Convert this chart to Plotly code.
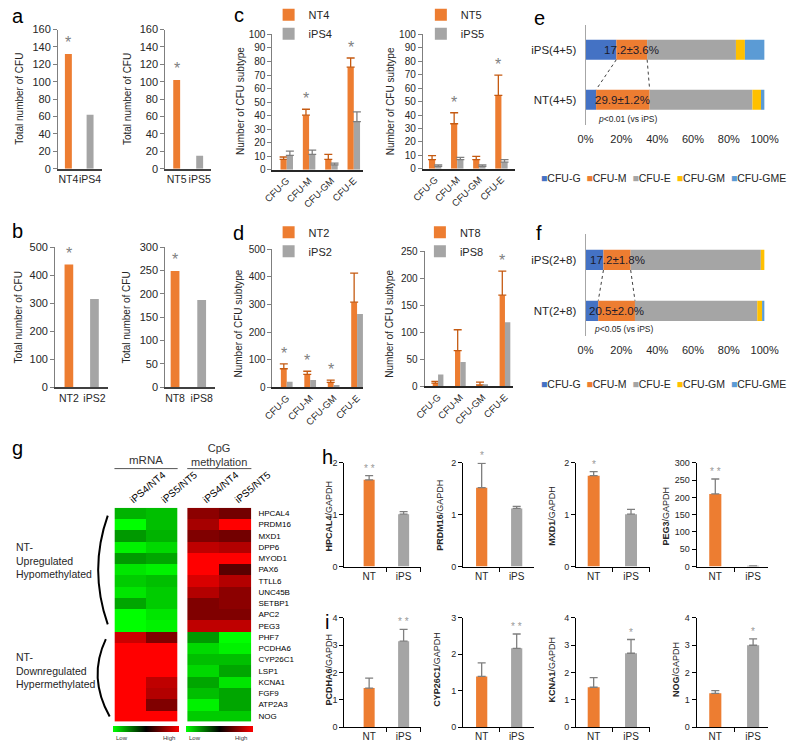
import plotly.graph_objects as go

W, H = 800, 749
def fx(p): return p / W
def fy(p): return 1 - p / H

ORANGE = '#ED7D31'
GRAY = '#A5A5A5'
TXT = '#262626'
FONT = 'Liberation Sans, Arial, sans-serif'

# ---------------- data ----------------
# panel a / b : total CFU
a1_cats = ['NT4', 'iPS4']; a1_vals = [132, 62]
a2_cats = ['NT5', 'iPS5']; a2_vals = [102, 15]
b1_cats = ['NT2', 'iPS2']; b1_vals = [438, 315]
b2_cats = ['NT8', 'iPS8']; b2_vals = [249, 187]

# panel c / d : CFU subtypes
cfu = ['CFU-G', 'CFU-M', 'CFU-GM', 'CFU-E']
nt4 = [7.7, 40.3, 7.7, 75.8];   nt4_err = [1.7, 4.4, 3.7, 6.8]
ips4 = [10.6, 11.4, 3.6, 35.5]; ips4_err = [3.2, 3.1, 1.2, 7.3]
nt5 = [6.8, 33.5, 6.8, 54.6];   nt5_err = [2.9, 8.2, 2.4, 15.1]
ips5 = [1.7, 6.8, 1.7, 4.9];    ips5_err = [1.2, 1.7, 1.2, 1.9]
nt2 = [67, 47, 18, 308];        nt2_err = [18, 11, 8, 105]
ips2 = [20, 26, 8, 265]
nt8 = [6, 66, 2.4, 168.5];      nt8_err = [3, 38.5, 5.4, 44.5]
ips8 = [21.7, 44.7, 3.6, 118.4]
c1_sig = [False, True, False, True]
c2_sig = [False, True, False, True]
d1_sig = [True, True, True, False]
d2_sig = [False, False, False, True]

# panel e / f : subtype composition (%)
subtypes = ['CFU-G', 'CFU-M', 'CFU-E', 'CFU-GM', 'CFU-GME']
sub_colors = ['#4472C4', '#ED7D31', '#A5A5A5', '#FFC000', '#5B9BD5']
pct_ticks = [0, 20, 40, 60, 80, 100]
e_groups = ['NT(4+5)', 'iPS(4+5)']
e_nt = [5.9, 29.9, 57.4, 4.8, 2.0]
e_ips = [17.2, 17.2, 49.6, 5.0, 11.0]
e_mlabels = ['29.9±1.2%', '17.2±3.6%']
e_p = '<i>p</i>&lt;0.01 (vs iPS)'
f_groups = ['NT(2+8)', 'iPS(2+8)']
f_nt = [7.1, 20.5, 68.3, 2.7, 1.4]
f_ips = [10.0, 15.2, 72.7, 2.1, 0.0]
f_mlabels = ['20.5±2.0%', '17.2±1.8%']
f_p = '<i>p</i>&lt;0.05 (vs iPS)'

# panel g : heatmap
genes = ['HPCAL4', 'PRDM16', 'MXD1', 'DPP6', 'MYOD1', 'PAX6', 'TTLL6', 'UNC45B',
         'SETBP1', 'APC2', 'PEG3', 'PHF7', 'PCDHA6', 'CYP26C1', 'LSP1', 'KCNA1',
         'FGF9', 'ATP2A3', 'NOG']
ratio_cols = ['iPS4/NT4', 'iPS5/NT5']
mrna_4 = [-0.7, -1.0, -0.6, -0.95, -0.6, -0.9, -0.8, -0.9, -0.65, -1.0, -1.0,
          0.8, 1.0, 1.0, 1.0, 1.0, 1.0, 1.0, 1.0]
mrna_5 = [-0.75, -0.75, -0.7, -0.85, -0.65, -0.95, -0.75, -0.8, -0.8, -0.9, -0.95,
          0.5, 1.0, 1.0, 1.0, 0.75, 0.7, 0.5, 1.0]
cpg_4 = [0.55, 0.65, 0.5, 0.75, 1.0, 1.0, 0.85, 0.7, 0.5, 0.5, 0.75,
         -0.6, -0.85, -0.75, -0.85, -0.65, -0.75, -0.95, -0.8]
cpg_5 = [0.45, 1.0, 0.45, 0.7, 1.0, 0.35, 0.7, 0.55, 0.55, 0.5, 0.75,
         -1.0, -0.95, -0.75, -0.65, -0.9, -0.65, -0.65, -0.8]

# panel h / i : qPCR
grp = ['NT', 'iPS']
h_genes = ['HPCAL4', 'PRDM16', 'MXD1', 'PEG3']
h_nt = [1.67, 1.52, 1.75, 210];  h_nt_err = [0.08, 0.47, 0.08, 43]
h_ips = [1.01, 1.12, 1.01, 2];   h_ips_err = [0.05, 0.04, 0.09, 0]
h_stars = ['* *', '*', '*', '* *']
h_ymax = [2, 2, 2, 300]; h_dtick = [1, 1, 1, 50]
i_genes = ['PCDHA6', 'CYP26C1', 'KCNA1', 'NOG']
i_nt = [1.43, 1.39, 1.46, 1.24];  i_nt_err = [0.36, 0.37, 0.35, 0.10]
i_ips = [3.14, 2.16, 2.70, 2.99]; i_ips_err = [0.43, 0.39, 0.50, 0.23]
i_stars = ['* *', '* *', '*', '*']
i_ymax = [4, 3, 4, 4]; i_dtick = [1, 1, 1, 1]

# ---------------- figure construction ----------------
traces, annotations, shapes = [], [], []
layout = dict(width=W, height=H, autosize=False, margin=dict(l=0, r=0, t=0, b=0),
              paper_bgcolor='white', plot_bgcolor='white',
              font=dict(family=FONT, size=11, color=TXT), barmode='overlay')

n_ax = [0]
def axes(x0, x1, ytop, ybot, xa, ya):
    n_ax[0] += 1
    s = '' if n_ax[0] == 1 else str(n_ax[0])
    xa = dict(xa); ya = dict(ya)
    xa.update(domain=[fx(x0), fx(x1)], anchor='y' + s, showgrid=False, zeroline=False, fixedrange=True)
    ya.update(domain=[fy(ybot), fy(ytop)], anchor='x' + s, showgrid=False, zeroline=False, fixedrange=True)
    layout['xaxis' + s] = xa
    layout['yaxis' + s] = ya
    return 'x' + s, 'y' + s

def y_style(ymax, dtick, size, color='#7f7f7f'):
    return dict(range=[0, ymax], dtick=dtick, tick0=0, showline=True, linecolor=color,
                linewidth=1, ticks='outside', ticklen=4, tickwidth=1, tickcolor=color,
                tickfont=dict(size=size, color=TXT))

def ann(**kw):
    d = dict(showarrow=False, xref='paper', yref='paper')
    d.update(kw)
    annotations.append(d)

def vtitle(text, px, py, size=10):
    ann(x=fx(px), y=fy(py), text=text, textangle=-90, font=dict(size=size, color=TXT),
        xanchor='center', yanchor='middle')

# panel letters
for letter, px, py in [('a', 6, 7), ('b', 6, 227), ('c', 237, 6), ('d', 237, 229),
                       ('e', 551, 9), ('f', 550, 229), ('g', 6, 448), ('h', 330, 457),
                       ('i', 329, 626)]:
    ann(x=fx(px), y=fy(py), text=letter, font=dict(size=20, color='black'),
        xanchor='center', yanchor='middle')

# ---- a / b ----
def total_panel(x0, x1, ytop, ybot, xr, cats, vals, ymax, dtick, bw, tx, ty):
    xa = dict(type='category', range=xr, showline=True, linecolor='#404040', linewidth=1.5,
              ticks='', tickangle=0, tickfont=dict(size=10.5, color=TXT))
    xr_, yr_ = axes(x0, x1, ytop, ybot, xa, y_style(ymax, dtick, 11))
    traces.append(go.Bar(x=cats, y=vals, marker=dict(color=[ORANGE, GRAY], line_width=0),
                         width=bw, xaxis=xr_, yaxis=yr_, showlegend=False))
    annotations.append(dict(x=cats[0], y=vals[0], xref=xr_, yref=yr_, text='*', showarrow=False,
                            yanchor='bottom', yshift=1, font=dict(size=16, color='#808080')))
    vtitle('Total number of CFU', tx, ty)

total_panel(48, 94, 21, 163, [-0.48, 1.55], a1_cats, a1_vals, 160, 20, 0.32, 7, 92)
total_panel(160, 208, 21, 163, [-0.5, 1.5], a2_cats, a2_vals, 160, 20, 0.30, 120, 92)
total_panel(45, 100, 243, 386, [-0.54, 1.52], b1_cats, b1_vals, 500, 100, 0.34, 7, 315)
total_panel(160, 212, 243, 386, [-0.37, 1.5], b2_cats, b2_vals, 300, 50, 0.33, 120, 315)

# ---- c / d ----
def cfu_panel(x0, x1, ytop, ybot, xr, ymax, dtick, nt, nt_err, ips, ips_err, sig, names,
              leg, leg_xy, w, tx, ty):
    xa = dict(range=xr, tickvals=list(range(len(cfu))), ticktext=cfu, showline=True,
              linecolor='#262626', linewidth=1.5, ticks='', tickangle=-45,
              tickfont=dict(size=9.5, color=TXT))
    xr_, yr_ = axes(x0, x1, ytop, ybot, xa, y_style(ymax, dtick, 10))
    xs = list(range(len(cfu)))
    err_nt = dict(type='data', array=nt_err, arrayminus=[0] * len(nt), symmetric=False,
                  color='#C55A11', thickness=1.3, width=4)
    traces.append(go.Bar(x=xs, y=nt, name=names[0], width=w, offset=-w,
                         marker=dict(color=ORANGE, line_width=0), error_y=err_nt,
                         xaxis=xr_, yaxis=yr_, legend=leg, showlegend=True))
    err_ips = None
    if ips_err is not None:
        err_ips = dict(type='data', array=ips_err, arrayminus=[0] * len(ips), symmetric=False,
                       color='#7f7f7f', thickness=1.3, width=4)
    traces.append(go.Bar(x=xs, y=ips, name=names[1], width=w, offset=0,
                         marker=dict(color=GRAY, line_width=0), error_y=err_ips,
                         xaxis=xr_, yaxis=yr_, legend=leg, showlegend=True))
    for i, s in enumerate(sig):
        if s:
            top = nt[i] + nt_err[i]
            annotations.append(dict(x=i - w / 2, y=top, xref=xr_, yref=yr_, text='*',
                                    showarrow=False, yanchor='bottom', yshift=0,
                                    font=dict(size=16, color='#808080')))
    layout[leg] = dict(x=fx(leg_xy[0]), y=fy(leg_xy[1]), xanchor='left', yanchor='top',
                       bgcolor='rgba(0,0,0,0)', font=dict(size=11, color=TXT),
                       tracegroupgap=0, itemwidth=30, borderwidth=0)
    vtitle('Number of CFU subtype', tx, ty)

cfu_panel(272, 367, 26, 164, [-0.64, 3.43], 100, 10, nt4, nt4_err, ips4, ips4_err, c1_sig,
          ['NT4', 'iPS4'], 'legend', (268, -9), 0.28, 238, 94)
cfu_panel(429, 525, 26, 163, [-0.56, 3.6], 100, 10, nt5, nt5_err, ips5, ips5_err, c2_sig,
          ['NT5', 'iPS5'], 'legend2', (427, -9), 0.28, 395, 94)
cfu_panel(272, 367, 245, 386, [-0.61, 3.27], 500, 100, nt2, nt2_err, ips2, None, d1_sig,
          ['NT2', 'iPS2'], 'legend3', (268, 213), 0.25, 237, 321)
cfu_panel(431, 523, 247, 385, [-0.6, 3.35], 250, 50, nt8, nt8_err, ips8, None, d2_sig,
          ['NT8', 'iPS8'], 'legend4', (426, 213), 0.24, 394, 321)

# ---- e / f ----
def cum(v):
    out, s = [], 0
    for x in v:
        out.append(s); s += x
    return out

def stack_panel(x0, x1, ytop, ybot, groups, nt, ips, mlabels, ptext, pxy, legy):
    xa = dict(range=[0, 100], tickvals=pct_ticks, ticktext=['%d%%' % t for t in pct_ticks],
              showline=False, ticks='', tickfont=dict(size=11, color=TXT), ticklabelstandoff=6)
    ya = dict(range=[-0.5, 1.5], tickvals=[0, 1], ticktext=groups, showline=True,
              linecolor='#a6a6a6', linewidth=1, ticks='', tickfont=dict(size=11.5, color=TXT),
              ticklabelstandoff=6)
    xr_, yr_ = axes(x0, x1, ytop, ybot, xa, ya)
    bnt, bips = cum(nt), cum(ips)
    for k in range(len(subtypes)):
        traces.append(go.Bar(orientation='h', y=[0, 1], x=[nt[k], ips[k]],
                             base=[bnt[k], bips[k]], width=0.4, name=subtypes[k],
                             marker=dict(color=sub_colors[k], line_width=0),
                             xaxis=xr_, yaxis=yr_, showlegend=False))
    for k in (1, 2):
        traces.append(go.Scatter(x=[bips[k], bnt[k]], y=[0.8, 0.2], mode='lines',
                                 line=dict(color='#404040', width=1, dash='dot'),
                                 xaxis=xr_, yaxis=yr_, showlegend=False, hoverinfo='skip'))
    for gi, (vals, base) in enumerate([(nt, bnt), (ips, bips)]):
        annotations.append(dict(x=base[1] + vals[1] / 2, y=gi, xref=xr_, yref=yr_,
                                text=mlabels[gi], showarrow=False,
                                font=dict(size=11.5, color='#1b1b2b')))
    ann(x=fx(pxy[0]), y=fy(pxy[1]), text=ptext, xanchor='left', yanchor='middle',
        font=dict(size=8.5, color=TXT))
    sp = '\u00a0\u00a0'
    txt = sp.join("<span style='color:%s'>■</span>%s" % (c, n) for c, n in zip(sub_colors, subtypes))
    ann(x=fx(680), y=fy(legy), text=txt, xanchor='center', yanchor='middle',
        font=dict(size=10.5, color=TXT))

stack_panel(599, 786, 16, 118, e_groups, e_nt, e_ips, e_mlabels, e_p, (610, 112), 172)
stack_panel(599, 786, 230, 334, f_groups, f_nt, f_ips, f_mlabels, f_p, (606, 327), 383)

# ---- g heatmap ----
cscale = [[0, '#00FF00'], [0.5, '#000000'], [1, '#FF0000']]
def heat(x0, x1, z, show_genes, cbx):
    xa = dict(side='top', tickangle=-40, ticks='', showline=False,
              tickfont=dict(size=10, color='black'))
    ya = dict(autorange='reversed', showline=False, ticks='', showticklabels=show_genes,
              side='right', tickfont=dict(size=8, color='black'), ticklabelstandoff=6)
    xr_, yr_ = axes(x0, x1, 509, 727, xa, ya)
    traces.append(go.Heatmap(z=z, x=ratio_cols, y=genes, colorscale=cscale, zmin=-1, zmax=1,
                             xaxis=xr_, yaxis=yr_, showscale=True,
                             colorbar=dict(orientation='h', x=fx(cbx), y=fy(734.5),
                                           xanchor='center', yanchor='middle',
                                           lenmode='pixels', len=x1 - x0, thickness=6,
                                           outlinewidth=0, showticklabels=False, ticks='',
                                           xpad=0, ypad=0)))

heat(107, 173, [[a, b] for a, b in zip(mrna_4, mrna_5)], False, 140)
heat(183, 250, [[a, b] for a, b in zip(cpg_4, cpg_5)], True, 216.5)

ann(x=fx(140), y=fy(460), text='mRNA', font=dict(size=11.5, color='#333'), xanchor='center', yanchor='middle')
ann(x=fx(216), y=fy(455), text='CpG<br>methylation', font=dict(size=11, color='#333'),
    xanchor='center', yanchor='middle')
for xa0, xa1 in [(107, 173), (183, 250)]:
    shapes.append(dict(type='line', xref='paper', yref='paper', x0=fx(xa0), x1=fx(xa1),
                       y0=fy(469), y1=fy(469), line=dict(color='#555', width=1)))
for lx, hx in [(107, 172), (183, 248)]:
    ann(x=fx(lx), y=fy(744), text='Low', xanchor='left', yanchor='middle', font=dict(size=6, color='#333'))
    ann(x=fx(hx), y=fy(744), text='High', xanchor='right', yanchor='middle', font=dict(size=6, color='#333'))
ann(x=fx(2), y=fy(563), text='NT-<br>Upregulated<br>Hypomethylated', xanchor='left',
    yanchor='middle', align='left', font=dict(size=10.5, color=TXT))
ann(x=fx(2), y=fy(675), text='NT-<br>Downregulated<br>Hypermethylated', xanchor='left',
    yanchor='middle', align='left', font=dict(size=10.5, color=TXT))
def qpath(p0, c, p1):
    return 'M %f,%f Q %f,%f %f,%f' % (fx(p0[0]), fy(p0[1]), fx(c[0]), fy(c[1]), fx(p1[0]), fy(p1[1]))
shapes.append(dict(type='path', xref='paper', yref='paper', path=qpath((100, 517), (80, 572), (100, 628)),
                   line=dict(color='black', width=2)))
shapes.append(dict(type='path', xref='paper', yref='paper', path=qpath((98, 643), (79, 682), (102, 722)),
                   line=dict(color='black', width=2)))

# ---- h / i ----
cols = [(347, 427, [-0.722, 1.5]), (471, 545, [-0.534, 1.49]),
        (589, 666, [-0.474, 1.5]), (715, 790, [-0.494, 1.405])]
h_title_x = [331, 447, 564, 683]
i_title_x = [331, 443, 563, 693]

def qpcr(col, ytop, ybot, gname, nt, nte, ips, ipse, ymax, dtick, star, star_on, tx, ty):
    x0, x1, xr = col
    xa = dict(range=xr, tickvals=[0, 1], ticktext=grp, showline=True, linecolor='black',
              linewidth=1, ticks='', tickfont=dict(size=10, color=TXT),
              minor=dict(tickvals=[0.5, 1.5], ticks='outside', ticklen=4, tickcolor='black'))
    xr_, yr_ = axes(x0, x1, ytop, ybot, xa, y_style(ymax, dtick, 9, 'black'))
    traces.append(go.Bar(x=[0, 1], y=[nt, ips], width=0.32,
                         marker=dict(color=[ORANGE, GRAY], line_width=0),
                         error_y=dict(type='data', array=[nte, ipse], arrayminus=[0, 0],
                                      symmetric=False, color='#7f7f7f', thickness=1.3, width=4),
                         xaxis=xr_, yaxis=yr_, showlegend=False))
    top = [nt + nte, ips + ipse][star_on]
    annotations.append(dict(x=star_on, y=top, xref=xr_, yref=yr_, text=star, showarrow=False,
                            yanchor='bottom', yshift=0, font=dict(size=10, color='#999999')))
    vtitle('<b>%s</b>/GAPDH' % gname, tx, ty, size=9)

for k in range(4):
    qpcr(cols[k], 463, 569, h_genes[k], h_nt[k], h_nt_err[k], h_ips[k], h_ips_err[k],
         h_ymax[k], h_dtick[k], h_stars[k], 0, h_title_x[k], 517)
for k in range(4):
    qpcr(cols[k], 621, 733, i_genes[k], i_nt[k], i_nt_err[k], i_ips[k], i_ips_err[k],
         i_ymax[k], i_dtick[k], i_stars[k], 1, i_title_x[k], 674)

layout['annotations'] = annotations
layout['shapes'] = shapes
fig = go.Figure(data=traces, layout=layout)
fig.write_html('out.html', config={'displayModeBar': False},
               post_script="document.body.style.margin='0';document.body.style.padding='0';"
                           "document.body.style.overflow='hidden';"
                           "document.documentElement.style.overflow='hidden';")
